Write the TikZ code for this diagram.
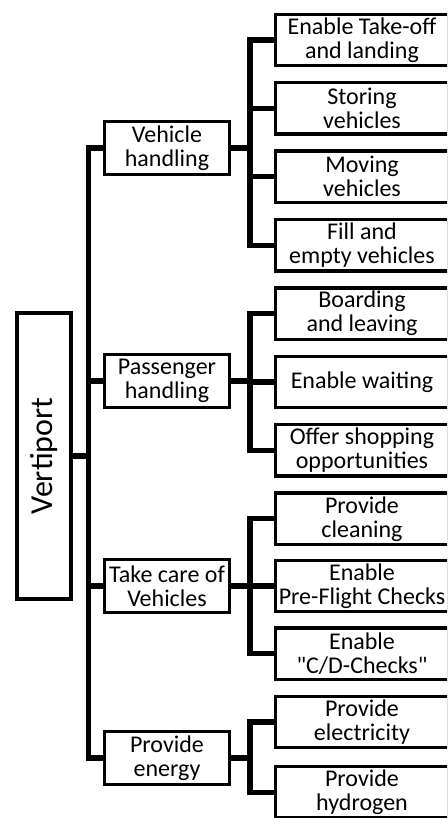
\documentclass[tikz,border=0pt]{standalone}
\usepackage{fontspec}
\setmainfont{Carlito}
\usepackage{graphicx}

\begin{document}
\begin{tikzpicture}[
    x=0.75pt, y=-0.75pt,
    rootbox/.style={
        rectangle, draw=black, line width=3.6pt, inner sep=0pt,
        minimum width=40.5pt, minimum height=214.5pt,
        font=\fontsize{24}{24}\selectfont
    },
    groupbox/.style={
        rectangle, draw=black, line width=2.3pt, inner sep=0pt,
        minimum width=93.75pt, minimum height=39.75pt,
        align=center, font=\fontsize{18}{18}\selectfont
    },
    taskbox/.style={
        rectangle, draw=black, line width=2.6pt, inner sep=0pt,
        minimum width=130pt, minimum height=38.6pt,
        align=center, font=\fontsize{18}{18}\selectfont
    },
    branch/.style={line width=4pt, draw=black}
]

\useasboundingbox (0,0) rectangle (447,818);
\clip (0,0) rectangle (447,818);

% Root
\node[rootbox] (root) at (44,456) {\rotatebox{90}{Vertiport}};

% Function groups
\node[groupbox] (veh) at (167,148) {Vehicle\\handling};
\node[groupbox] (pax) at (167,381) {Passenger\\handling};
\node[groupbox] (care) at (167,586) {Take care of\\Vehicles};
\node[groupbox] (energy) at (167,758) {Provide\\energy};

% Tasks
\node[taskbox] (t1)  at (362,40)    {Enable Take-off\\and landing};
\node[taskbox] (t2)  at (362,108.4) {Storing\\vehicles};
\node[taskbox] (t3)  at (362,176.8) {Moving\\vehicles};
\node[taskbox] (t4)  at (362,245.2) {Fill and\\empty vehicles};
\node[taskbox] (t5)  at (362,313.6) {Boarding\\and leaving};
\node[taskbox] (t6)  at (362,382)   {Enable waiting};
\node[taskbox] (t7)  at (362,450.4) {Offer shopping\\opportunities};
\node[taskbox] (t8)  at (362,518.8) {Provide\\cleaning};
\node[taskbox] (t9)  at (362,586)   {Enable\\Pre-Flight Checks};
\node[taskbox] (t10) at (362,653.6) {Enable\\\textquotedbl C/D-Checks\textquotedbl};
\node[taskbox] (t11) at (362,722)   {Provide\\electricity};
\node[taskbox] (t12) at (362,792.4) {Provide\\hydrogen};

% Root to groups
\foreach \g in {veh, pax, care, energy}
    \draw[branch] (root.east) -- ++(15,0) |- (\g.west);

% Groups to tasks
\foreach \t in {t1, t2, t3, t4}
    \draw[branch] (veh.east) -- ++(19,0) |- (\t.west);
\foreach \t in {t5, t6, t7}
    \draw[branch] (pax.east) -- ++(19,0) |- (\t.west);
\foreach \t in {t8, t9, t10}
    \draw[branch] (care.east) -- ++(19,0) |- (\t.west);
\foreach \t in {t11, t12}
    \draw[branch] (energy.east) -- ++(19,0) |- (\t.west);

\end{tikzpicture}
\end{document}
